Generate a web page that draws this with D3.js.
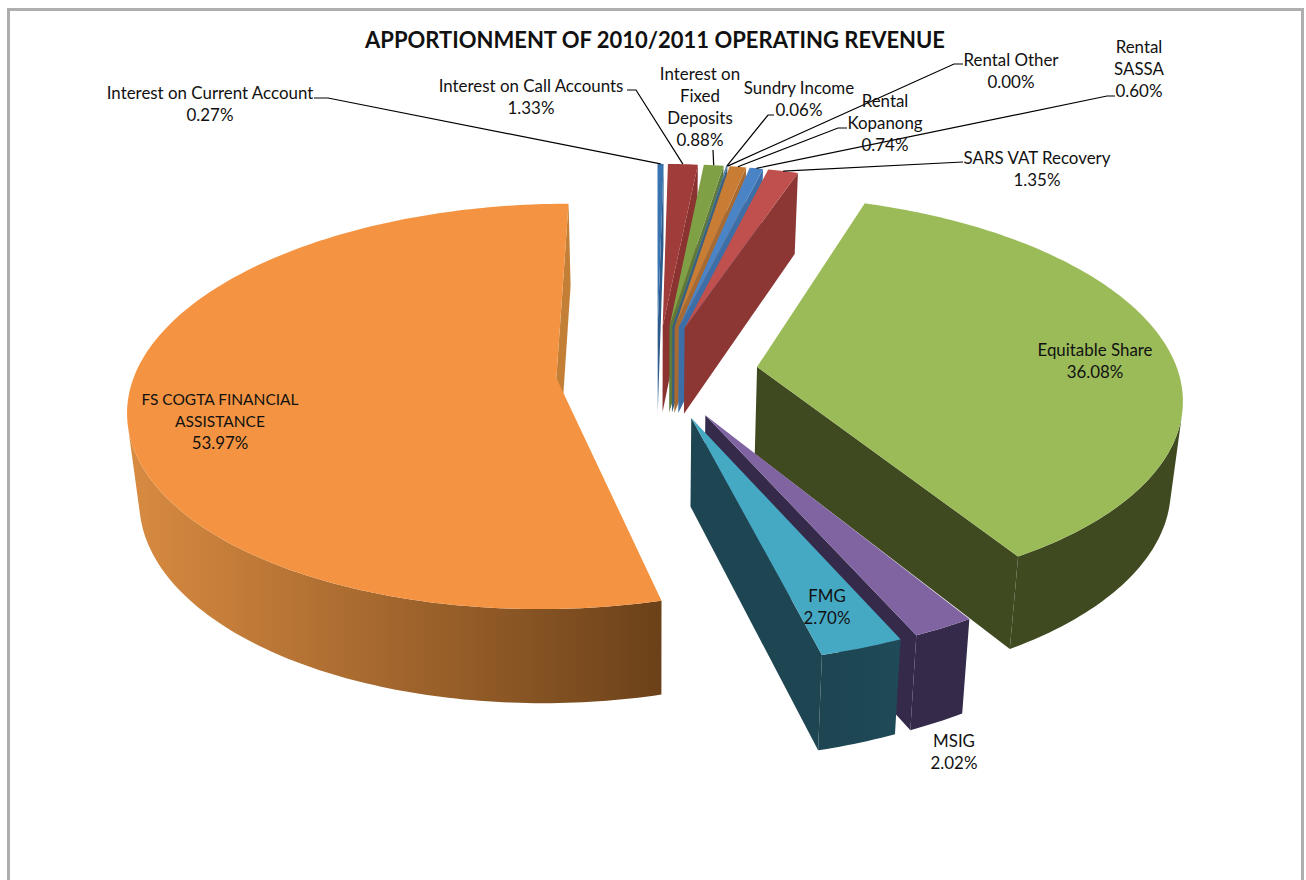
<!DOCTYPE html>
<html>
<head>
<meta charset="utf-8">
<script src="https://cdn.jsdelivr.net/npm/d3@7"></script>
<style>
  html, body { margin: 0; padding: 0; background: #fff; overflow: hidden; }
  text { font-family: Lato, "Open Sans", sans-serif; fill: #111; }
</style>
</head>
<body>
<div id="chart"></div>
<script>
// 数据
var categories = ['Equitable Share', 'MSIG', 'FMG', 'FS COGTA FINANCIAL ASSISTANCE',
  'Interest on Current Account', 'Interest on Call Accounts', 'Interest on Fixed Deposits',
  'Sundry Income', 'Rental Other', 'Rental Kopanong', 'Rental SASSA', 'SARS VAT Recovery'];
var values = [36.08, 2.02, 2.70, 53.97, 0.27, 1.33, 0.88, 0.06, 0.00, 0.74, 0.60, 1.35];
var labelLines = [['Equitable Share'], ['MSIG'], ['FMG'], ['FS COGTA FINANCIAL', 'ASSISTANCE'],
  ['Interest on Current Account'], ['Interest on Call Accounts'], ['Interest on', 'Fixed', 'Deposits'],
  ['Sundry Income'], ['Rental Other'], ['Rental', 'Kopanong'], ['Rental', 'SASSA'], ['SARS VAT Recovery']];

// 颜色
var topColors = ['#9bbb59', '#8064a2', '#46a9c4', '#f49442', '#3a74b0', '#a03c3a', '#80a046',
  '#4a7a9a', '#4f81bd', '#c97c34', '#4a84c6', '#c0504d'];
var wallLeft = ['#3f4a20', '#352a4a', '#1d4552', '#d98b41', '#2c5a8a', '#8a3331', '#5f7a38',
  '#3a6080', '#3f6a9a', '#a86a30', '#3c6ea8', '#8d3735'];
var wallRight = ['#3f4a20', '#352a4a', '#1f4a58', '#6b4119', '#2c5a8a', '#8a3331', '#5f7a38',
  '#3a6080', '#3f6a9a', '#a86a30', '#3c6ea8', '#8d3735'];
var cutColors = ['#3f4a20', '#352a4a', '#1d4552', '#c47f36', '#2c5a8a', '#8a3331', '#5f7a38',
  '#3a6080', '#3f6a9a', '#a86a30', '#3c6ea8', '#8d3735'];

// 标签位置 [中心x, 首行y]，引线 [起点, 折点]
var labelPos = [[1095, 356], [954, 747], [827, 602], [220, 405], [210, 99], [531, 92], [700, 80],
  [799, 94], [1011, 66], [885, 107], [1139, 53], [1037, 164]];
var leaders = [null, null, null, null,
  [[314, 98], [328, 98]], [[627, 90], [636, 90]], [[713, 150], [713, 150]],
  [[774, 115], [768, 115]], [[963, 64], [954, 64]], [[847, 128], [838, 128]],
  [[1115, 96], [1107, 96]], [[963, 162], [963, 162]]];

var width = 1306, height = 880;
var cx = 657, cy = 372, rx = 421, ry = 197;
var persp = 0.14, explode = 0.24, startDeg = 18.8;

// 投影：饼面坐标 -> 屏幕
function project(X, Y, lower) {
  var s = 1 / (1 - persp * Y);
  var x = cx + rx * X * s, y = cy + ry * Y * s;
  if (lower) {
    x = cx + (x - cx) * 0.977;
    y += 45 + 42 * s;
  }
  return [x, y];
}

function ptAt(d, angle, radius, lower) {
  var mid = (d.startAngle + d.endAngle) / 2;
  var X = explode * Math.sin(mid) + radius * Math.sin(angle);
  var Y = -explode * Math.cos(mid) - radius * Math.cos(angle);
  return project(X, Y, lower);
}

var svg = d3.select('#chart').append('svg')
  .attr('width', width)
  .attr('height', height);

svg.append('rect').attr('width', width).attr('height', height).attr('fill', '#fff');

// 外框
svg.append('rect')
  .attr('x', 8.5).attr('y', 9.5)
  .attr('width', 1294).attr('height', 900)
  .attr('fill', 'none').attr('stroke', '#aeaeae').attr('stroke-width', 3);

var pie = d3.pie().sort(null)
  .startAngle(startDeg * Math.PI / 180)
  .endAngle((startDeg + 360) * Math.PI / 180);
var arcs = pie(values);

var defs = svg.append('defs');
arcs.forEach(function (d, i) {
  var xs = d3.range(0, 41).map(function (k) {
    return ptAt(d, d.startAngle + (d.endAngle - d.startAngle) * k / 40, 1, false)[0];
  });
  var g = defs.append('linearGradient')
    .attr('id', 'wall' + i)
    .attr('gradientUnits', 'userSpaceOnUse')
    .attr('x1', d3.min(xs)).attr('x2', d3.max(xs) + 1)
    .attr('y1', 0).attr('y2', 0);
  g.append('stop').attr('offset', 0).attr('stop-color', wallLeft[i]);
  g.append('stop').attr('offset', 1).attr('stop-color', wallRight[i]);
});

var line = d3.line();
var order = d3.range(arcs.length).sort(function (a, b) {
  var ma = (arcs[a].startAngle + arcs[a].endAngle) / 2;
  var mb = (arcs[b].startAngle + arcs[b].endAngle) / 2;
  return d3.ascending(-Math.cos(ma), -Math.cos(mb));
});

var slices = svg.append('g').attr('class', 'slices');
order.forEach(function (i) {
  var d = arcs[i];
  if (d.value === 0) return;
  var g = slices.append('g');
  var n = Math.max(2, Math.ceil((d.endAngle - d.startAngle) * 60));
  var angles = d3.range(n + 1).map(function (k) {
    return d.startAngle + (d.endAngle - d.startAngle) * k / n;
  });
  var apexT = ptAt(d, 0, 0, false), apexB = ptAt(d, 0, 0, true);
  var topRim = angles.map(function (a) { return ptAt(d, a, 1, false); });
  var lowRim = angles.map(function (a) { return ptAt(d, a, 1, true); });

  // 两个切面，只画朝向观察者的
  var startWall = [apexT, topRim[0], lowRim[0], apexB];
  var endWall = [apexT, apexB, lowRim[n], topRim[n]];
  [startWall, endWall].forEach(function (w) {
    if (d3.polygonArea(w) > 0) {
      g.append('path').attr('d', line(w) + 'Z')
        .attr('fill', cutColors[i]);
    }
  });

  // 外侧面：可见的部分合成一个多边形
  var vis = d3.range(n).filter(function (k) {
    return d3.polygonArea([topRim[k], lowRim[k], lowRim[k + 1], topRim[k + 1]]) < 0;
  });
  if (vis.length) {
    var a = d3.min(vis), b = d3.max(vis) + 1;
    var rimPoly = topRim.slice(a, b + 1).concat(lowRim.slice(a, b + 1).reverse());
    g.append('path').attr('d', line(rimPoly) + 'Z')
      .attr('fill', 'url(#wall' + i + ')');
  }

  // 顶面
  g.append('path')
    .attr('d', line([apexT].concat(topRim)) + 'Z')
    .attr('fill', topColors[i]);
});

// 引线
var leaderG = svg.append('g').attr('fill', 'none').attr('stroke', '#000').attr('stroke-width', 1.2);
arcs.forEach(function (d, i) {
  if (!leaders[i]) return;
  var mid = (d.startAngle + d.endAngle) / 2;
  var end = ptAt(d, mid, 1, false);
  leaderG.append('path').attr('d', line([leaders[i][0], leaders[i][1], end]));
});

// 标签
var labels = svg.append('g').attr('text-anchor', 'middle').attr('font-size', 16.9);
arcs.forEach(function (d, i) {
  var rows = labelLines[i].concat(d3.format('.2f')(values[i]) + '%');
  rows.forEach(function (t, r) {
    var node = labels.append('text')
      .attr('x', labelPos[i][0])
      .attr('y', labelPos[i][1] + r * 22)
      .text(t);
    if (t === t.toUpperCase() && t.length > 8) node.attr('font-size', 15.5);
  });
});

// 标题
svg.append('text')
  .attr('x', 655).attr('y', 48)
  .attr('text-anchor', 'middle')
  .attr('font-size', 22)
  .attr('font-weight', 700)
  .text('APPORTIONMENT OF 2010/2011 OPERATING REVENUE');
</script>
</body>
</html>
